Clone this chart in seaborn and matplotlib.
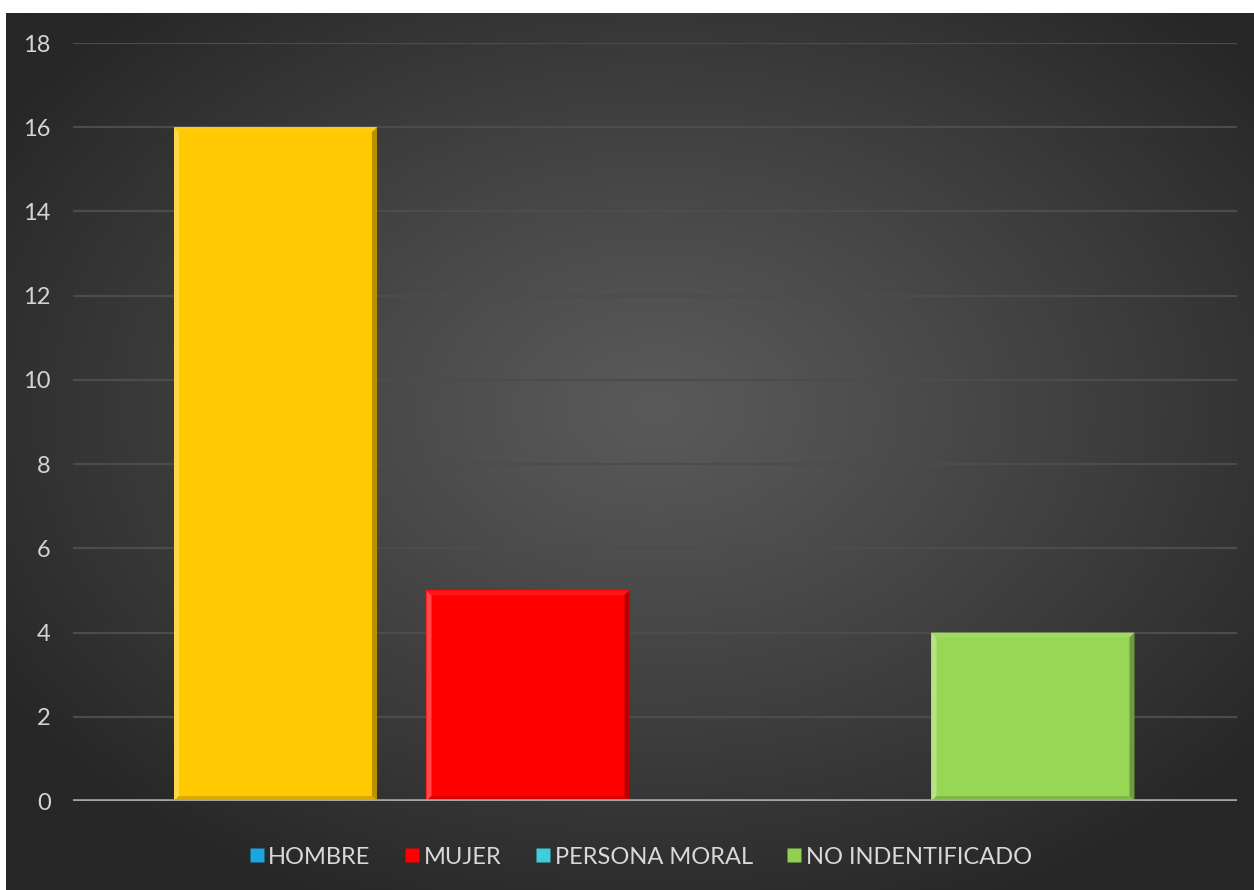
import numpy as np
import pandas as pd
import matplotlib
matplotlib.use("Agg")
import matplotlib.pyplot as plt
from matplotlib.patches import Polygon
from matplotlib.lines import Line2D
from matplotlib.colors import to_rgb
import seaborn as sns

# Series shown in the chart
categories = ["HOMBRE", "MUJER", "PERSONA MORAL", "NO INDENTIFICADO"]
values = [16, 5, 0, 4]
bar_colors = ["#FFC800", "#FF0000", "#3CCFDB", "#98D755"]
legend_colors = ["#1AA6E0", "#FF0000", "#3CCFDB", "#92D050"]
y_ticks = [0, 2, 4, 6, 8, 10, 12, 14, 16, 18]

sns.set_theme(style="dark")
plt.rcParams["font.family"] = ["Lato", "DejaVu Sans"]

fig = plt.figure(figsize=(12.54, 8.90), dpi=100, facecolor="white")

# dark panel with a soft radial glow in the middle
bg = fig.add_axes([6 / 1254, 0, 1 - 6 / 1254, 1 - 13 / 890])
bg.set_axis_off()
ny, nx = 400, 560
yy, xx = np.mgrid[0:ny, 0:nx]
cx, cy = nx * 0.52, ny * 0.45
r = np.sqrt(((xx - cx) / (nx * 0.62)) ** 2 + ((yy - cy) / (ny * 0.62)) ** 2)
r = np.clip(r, 0, 1)
inner = np.array(to_rgb("#5a5a5a"))
outer = np.array(to_rgb("#272727"))
t = r ** 1.1
img = inner[None, None, :] * (1 - t[..., None]) + outer[None, None, :] * t[..., None]
bg.imshow(img, aspect="auto", extent=[0, 1, 0, 1], interpolation="bilinear")
bg.set_xlim(0, 1)
bg.set_ylim(0, 1)

ax = fig.add_axes([73 / 1254, 1 - 801 / 890, (1237 - 73) / 1254, (801 - 43) / 890])
ax.patch.set_alpha(0)

df = pd.DataFrame({"categoria": categories, "valor": values})
sns.barplot(data=df, x="categoria", y="valor", hue="categoria",
            palette=dict(zip(categories, bar_colors)), width=0.804,
            legend=False, saturation=1, ax=ax, linewidth=0)

ax.set_xlim(-0.802, 3.808)
ax.set_ylim(0, 18)
ax.set_yticks(y_ticks)
ax.set_yticklabels([str(v) for v in y_ticks], color="#d4d4d4", fontsize=17)
ax.set_xticks([])
ax.set_xlabel("")
ax.set_ylabel("")
ax.tick_params(axis="y", length=0, pad=16)
for s in ax.spines.values():
    s.set_visible(False)
ax.grid(False)
for v in y_ticks[1:]:
    ax.axhline(v, color="#4c4c4c", lw=1.6, zorder=0.5)
ax.axhline(0, color="#a6a6a6", lw=2.6, zorder=3)


def shade(c, f):
    c = np.array(to_rgb(c))
    if f >= 0:
        return tuple(c + (1 - c) * f)
    return tuple(c * (1 + f))


# bevelled edges on each bar
fig.canvas.draw()
px_x = (ax.get_xlim()[1] - ax.get_xlim()[0]) / ax.bbox.width
px_y = (ax.get_ylim()[1] - ax.get_ylim()[0]) / ax.bbox.height
for p in list(ax.patches):
    x0, y0, w, h = p.get_x(), p.get_y(), p.get_width(), p.get_height()
    if h <= 0:
        continue
    c = p.get_facecolor()
    bx, by = 5 * px_x, 5 * px_y
    x1, y1 = x0 + w, y0 + h
    faces = [
        ([(x0, y0), (x0, y1), (x0 + bx, y1 - by), (x0 + bx, y0 + by)], shade(c, 0.28)),
        ([(x0, y1), (x1, y1), (x1 - bx, y1 - by), (x0 + bx, y1 - by)], shade(c, 0.08)),
        ([(x1, y1), (x1, y0), (x1 - bx, y0 + by), (x1 - bx, y1 - by)], shade(c, -0.28)),
        ([(x0, y0), (x1, y0), (x1 - bx, y0 + by), (x0 + bx, y0 + by)], shade(c, -0.15)),
    ]
    for pts, col in faces:
        ax.add_patch(Polygon(pts, closed=True, facecolor=col, edgecolor="none", zorder=2.5))

handles = [Line2D([0], [0], marker="s", linestyle="none", markersize=10,
                  markerfacecolor=c, markeredgecolor="none") for c in legend_colors]
leg = fig.legend(handles, categories, loc="center", bbox_to_anchor=(0.511, 1 - 857 / 890),
                 ncol=4, frameon=False, handletextpad=0.2,
                 columnspacing=1.45, handlelength=0.6,
                 prop={"size": 17})
for txt in leg.get_texts():
    txt.set_color("#d9d9d9")

fig.savefig("out.png", dpi=100, facecolor="white")
